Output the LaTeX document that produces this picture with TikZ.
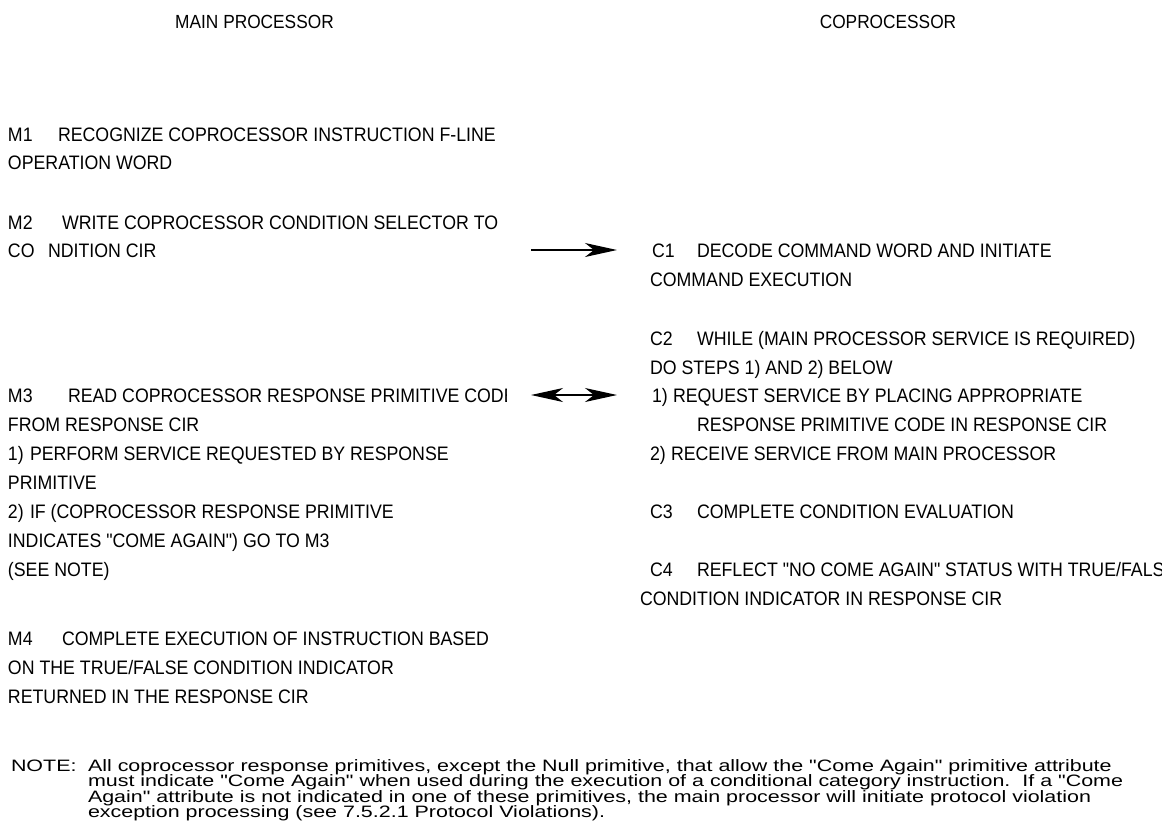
\documentclass[tikz,border=0pt]{standalone}
\usepackage{fontspec}
\setmainfont{Liberation Sans}
\newfontfamily\mainf[FakeStretch=0.91]{Liberation Sans}
\newfontfamily\notef[FakeStretch=1.3]{Liberation Sans}
\usetikzlibrary{arrows.meta}
\begin{document}
\begin{tikzpicture}[x=1pt,y=-1pt,
  ln/.style={anchor=base west, inner sep=0pt, outer sep=0pt, font=\mainf\fontsize{19.5}{24}\selectfont},
  ttl/.style={anchor=base, inner sep=0pt, outer sep=0pt, font=\mainf\fontsize{19}{24}\selectfont},
  nt/.style={anchor=base west, inner sep=0pt, outer sep=0pt, font=\notef\fontsize{16.5}{16}\selectfont},
  tip/.tip={Stealth[length=32pt,width=14pt,inset=9pt]},
  arr/.style={line width=1.3pt, -tip},
  darr/.style={line width=1.3pt, tip-tip}]
\useasboundingbox (0,0) rectangle (1173,839);
% titles
\node[ttl] (tmain) at (254.5,28) {MAIN PROCESSOR};
\node[ttl] (tcop) at (888,28) {COPROCESSOR};
% main processor column
\node[ln] (m1) at (8,141) {M1};
\node[ln] (m1a) at (58,141) {RECOGNIZE COPROCESSOR INSTRUCTION F-LINE};
\node[ln] (m1b) at (8,169) {OPERATION WORD};
\node[ln] (m2) at (8,229) {M2};
\node[ln] (m2a) at (62,229) {WRITE COPROCESSOR CONDITION SELECTOR TO};
\node[ln] (m2b) at (8,257) {CO};
\node[ln] (m2c) at (48,257) {NDITION CIR};
\node[ln] (m3) at (8,402) {M3};
\begin{scope}
\clip (0,370) rectangle (506.5,410);
\node[ln] (m3a) at (68,402) {READ COPROCESSOR RESPONSE PRIMITIVE CODE};
\end{scope}
\node[ln] (m3b) at (8,431) {FROM RESPONSE CIR};
\node[ln] (m3c) at (8,460) {1)};
\node[ln] (m3d) at (30,460) {PERFORM SERVICE REQUESTED BY RESPONSE};
\node[ln] (m3e) at (8,489) {PRIMITIVE};
\node[ln] (m3f) at (8,518) {2)};
\node[ln] (m3g) at (30,518) {IF (COPROCESSOR RESPONSE PRIMITIVE};
\node[ln] (m3h) at (8,547) {INDICATES "COME AGAIN") GO TO M3};
\node[ln] (m3i) at (8,576) {(SEE NOTE)};
\node[ln] (m4) at (8,645) {M4};
\node[ln] (m4a) at (62,645) {COMPLETE EXECUTION OF INSTRUCTION BASED};
\node[ln] (m4b) at (8,674) {ON THE TRUE/FALSE CONDITION INDICATOR};
\node[ln] (m4c) at (8,703) {RETURNED IN THE RESPONSE CIR};
% coprocessor column
\node[ln] (c1) at (652,257) {C1};
\node[ln] (c1a) at (697,257) {DECODE COMMAND WORD AND INITIATE};
\node[ln] (c1b) at (650,286) {COMMAND EXECUTION};
\node[ln] (c2) at (650,345) {C2};
\node[ln] (c2a) at (697,345) {WHILE (MAIN PROCESSOR SERVICE IS REQUIRED)};
\node[ln] (c2b) at (650,374) {DO STEPS 1) AND 2) BELOW};
\node[ln] (c2c) at (652,402) {1)};
\node[ln] (c2d) at (673,402) {REQUEST SERVICE BY PLACING APPROPRIATE};
\node[ln] (c2e) at (697,431) {RESPONSE PRIMITIVE CODE IN RESPONSE CIR};
\node[ln] (c2f) at (650,460) {2)};
\node[ln] (c2g) at (671,460) {RECEIVE SERVICE FROM MAIN PROCESSOR};
\node[ln] (c3) at (650,518) {C3};
\node[ln] (c3a) at (697,518) {COMPLETE CONDITION EVALUATION};
\node[ln] (c4) at (650,576) {C4};
\begin{scope}
\clip (690,550) rectangle (1161,585);
\node[ln] (c4a) at (697,576) {REFLECT "NO COME AGAIN" STATUS WITH TRUE/FALSE};
\end{scope}
\node[ln] (c4b) at (640,605) {CONDITION INDICATOR IN RESPONSE CIR};
% note
\node[nt] (note) at (11,771) {NOTE:};
\node[nt] (n1) at (88,771) {All coprocessor response primitives, except the Null primitive, that allow the "Come Again" primitive attribute};
\node[nt] (n2) at (88,786.5) {must indicate "Come Again" when used during the execution of a conditional category instruction.\ \ If a "Come};
\node[nt] (n3) at (88,802) {Again" attribute is not indicated in one of these primitives, the main processor will initiate protocol violation};
\node[nt] (n4) at (88,817.5) {exception processing (see 7.5.2.1 Protocol Violations).};
% arrows
\coordinate (a1s) at (531,250);
\coordinate (a1e) at (617,250);
\draw[arr] (a1s) -- (a1e);
\coordinate (a2s) at (531,395);
\coordinate (a2e) at (617,395);
\draw[darr] (a2s) -- (a2e);
\end{tikzpicture}
\end{document}
